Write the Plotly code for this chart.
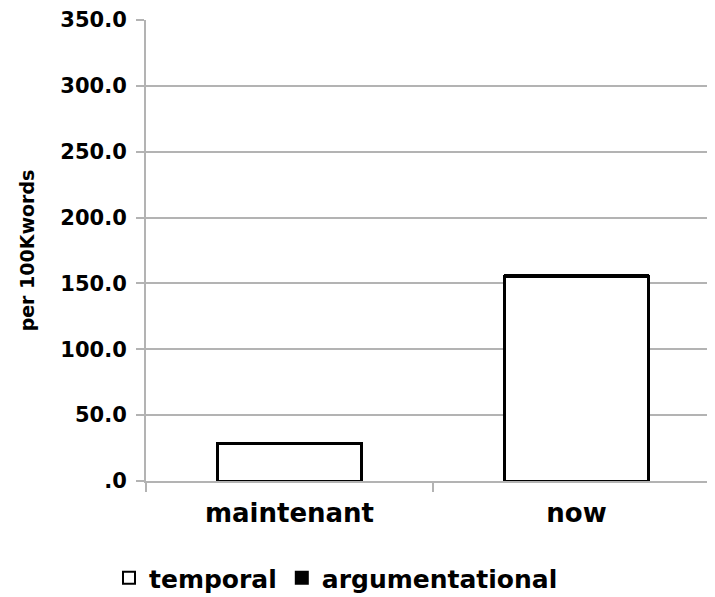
import plotly.graph_objects as go

categories = ["maintenant", "now"]
temporal = [28.5, 155.5]
argumentational = [0.0, 1.0]
y_tickvals = [0, 50, 100, 150, 200, 250, 300, 350]
y_ticktext = [".0", "50.0", "100.0", "150.0", "200.0", "250.0", "300.0", "350.0"]

FONT = "DejaVu Sans"
W, H = 712, 589  # page body has an 8px margin

fig = go.Figure()
fig.add_trace(go.Bar(
    x=categories, y=temporal, name="temporal",
    marker=dict(color="white", line=dict(color="black", width=3)),
    width=0.5,
))
fig.add_trace(go.Bar(
    x=categories, y=argumentational, name="argumentational",
    marker=dict(color="black", line=dict(color="black", width=1.5)),
    width=0.5,
))

fig.update_layout(
    barmode="stack",
    width=W, height=H,
    margin=dict(l=138, r=0, t=12, b=116, autoexpand=False),
    plot_bgcolor="white", paper_bgcolor="white",
    font=dict(family=FONT, color="black"),
    showlegend=True,
    legend=dict(
        orientation="h", xref="container", yref="container",
        x=101 / W, xanchor="left", y=1 - 570 / H, yanchor="middle",
        font=dict(size=25, family=FONT, color="black", weight="bold"),
        traceorder="normal", itemsizing="constant",
    ),
)
fig.update_yaxes(
    range=[0, 350], tickvals=y_tickvals, ticktext=y_ticktext,
    showgrid=True, gridcolor="#b3b3b3", gridwidth=1.5,
    showline=True, linecolor="#b3b3b3", linewidth=2,
    ticks="outside", ticklen=8, tickcolor="#b3b3b3", tickwidth=1.5,
    ticklabelstandoff=5,
    tickfont=dict(size=21, family=FONT, color="black", weight="bold"),
    title=dict(text="per 100Kwords", font=dict(size=19, family=FONT, weight="bold"), standoff=21),
    zeroline=False, automargin=False,
)
fig.update_xaxes(
    showline=True, linecolor="#b3b3b3", linewidth=2,
    ticks="outside", ticklen=9, tickcolor="#b3b3b3", tickwidth=1.5,
    tickson="boundaries", ticklabelstandoff=8,
    tickfont=dict(size=26, family=FONT, color="black", weight="bold"),
    range=[-0.5, 1.5], automargin=False,
)

fig.write_html("out.html")
